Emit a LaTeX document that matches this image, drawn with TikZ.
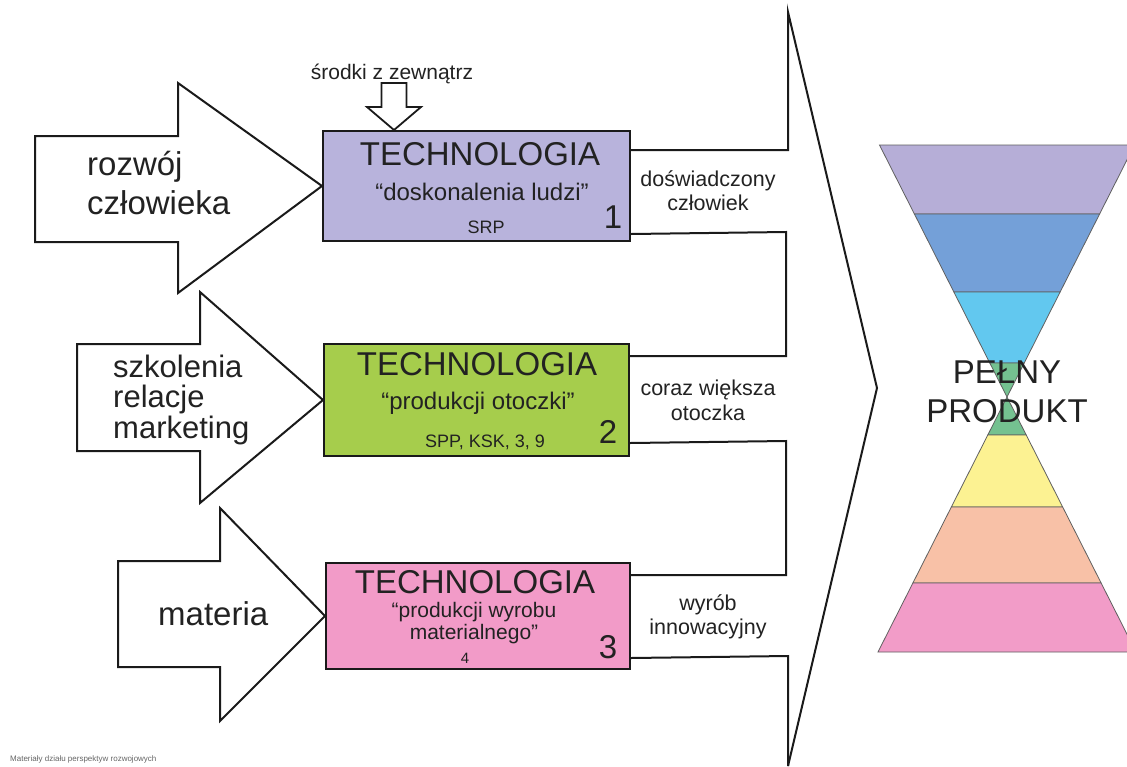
\documentclass[tikz,border=0pt]{standalone}
\usepackage{fontspec}
\setmainfont{Liberation Sans}
\usetikzlibrary{calc}

\definecolor{techA}{HTML}{B8B3DC}
\definecolor{techB}{HTML}{A6CD4C}
\definecolor{techC}{HTML}{F29BC8}
\definecolor{bandA}{HTML}{B6AED7}
\definecolor{bandB}{HTML}{74A0D8}
\definecolor{bandC}{HTML}{62C8EF}
\definecolor{bandD}{HTML}{74C190}
\definecolor{bandE}{HTML}{FCF292}
\definecolor{bandF}{HTML}{F8C1A7}
\definecolor{bandG}{HTML}{F29CC8}
\definecolor{ink}{HTML}{222222}
\definecolor{edge}{HTML}{1A1A1A}

\newcommand\fs[2]{\fontsize{#1}{#2}\selectfont}
% one horizontal slice of the hourglass between heights #1 and #2
\newcommand\hgband[3]{%
  \filldraw[band, fill=#3]
    ({1007-0.506*abs(#1-397)},#1) -- ({1007+0.506*abs(#1-397)},#1) --
    ({1007+0.506*abs(#2-397)},#2) -- ({1007-0.506*abs(#2-397)},#2) -- cycle;}

\begin{document}
\begin{tikzpicture}[x=1pt,y=-1pt,
  techbox/.style={draw=edge, line width=2pt, anchor=north west, inner sep=0pt},
  outline/.style={draw=edge, line width=2pt, line join=miter},
  title/.style={text=ink, font={\fs{33}{33}}, inner sep=0pt, anchor=base},
  sub/.style={text=ink, font={\fs{24}{24}}, inner sep=0pt, anchor=base},
  subsm/.style={text=ink, font={\fs{21}{21}}, inner sep=0pt, anchor=base},
  code/.style={text=ink, font={\fs{18}{18}}, inner sep=0pt, anchor=base},
  num/.style={text=ink, font={\fs{33}{33}}, inner sep=0pt, anchor=base},
  flow/.style={text=ink, font={\fs{21.5}{21.5}}, inner sep=0pt, anchor=base},
  big/.style={text=ink, font={\fs{33}{33}}, inner sep=0pt, anchor=base west},
  bigtight/.style={text=ink, font={\fs{31}{31}}, inner sep=0pt, anchor=base west},
  band/.style={draw=gray!75!black, line width=0.8pt},
]
\clip (0,0) rectangle (1127,766);
\fill[white] (0,0) rectangle (1127,766);

% ---- technology boxes ----
\node[techbox, fill=techA, minimum width=307pt, minimum height=110pt] (b1) at (322,130) {};
\node[techbox, fill=techB, minimum width=305pt, minimum height=112pt] (b2) at (323,343) {};
\node[techbox, fill=techC, minimum width=304pt, minimum height=106pt] (b3) at (325,562) {};

\node[title] (t1) at (480,165) {TECHNOLOGIA};
\node[sub]   (s1) at (482,200) {“doskonalenia ludzi”};
\node[code]  (c1) at (486,233) {SRP};
\node[num]   (n1) at (613,228) {1};

\node[title] (t2) at (477,375) {TECHNOLOGIA};
\node[sub]   (s2) at (478,409) {“produkcji otoczki”};
\node[code]  (c2) at (485,447) {SPP, KSK, 3, 9};
\node[num]   (n2) at (608,443) {2};

\node[title] (t3) at (475,593) {TECHNOLOGIA};
\node[subsm] (s3a) at (474,617) {“produkcji wyrobu};
\node[subsm] (s3b) at (474,639) {materialnego”};
\node[text=ink, font={\fs{15}{15}}, inner sep=0pt, anchor=base] (c3) at (465,663) {4};
\node[num]   (n3) at (608,658) {3};

% ---- input arrows ----
\draw[outline, fill=white] (35,136) -- (178,136) -- (178,83) -- (b1.west)
  -- (178,293) -- (178,242) -- (35,242) -- cycle;
\draw[outline, fill=white] (77,344) -- (200,344) -- (200,292) -- (b2.west)
  -- (200,503) -- (200,451) -- (77,451) -- cycle;
\draw[outline, fill=white] (118,561) -- (220,561) -- (220,508) -- (b3.west)
  -- (220,721) -- (220,667) -- (118,667) -- cycle;

\node[big] (a1a) at (87,175) {rozwój};
\node[big] (a1b) at (87,214) {człowieka};
\node[bigtight] (a2a) at (113,377) {szkolenia};
\node[bigtight] (a2b) at (113,407) {relacje};
\node[bigtight] (a2c) at (113,438) {marketing};
\node[big] (a3)  at (158,625) {materia};

% ---- outside resources arrow ----
\coordinate (ext) at ($(b1.north west)+(72,0)$);
\draw[outline, fill=white, line width=1.8pt] (381.5,83) -- (406.5,83) -- (406.5,107)
  -- (421,107) -- (ext) -- (367,107) -- (381.5,107) -- cycle;
\node[text=ink, font={\fs{21}{21}}, inner sep=0pt, anchor=base] (ext label) at (392,79) {środki z zewnątrz};

% ---- big output chevron built around the boxes ----
\coordinate (chevtop) at (788,12);
\coordinate (chevtip) at (877,388);
\coordinate (chevbot) at (788,766);
\draw[outline] ($(b1.north east)+(0,20)$) -- (788,150) -- (chevtop) -- (chevtip) -- (chevbot);
\draw[outline] ($(b1.south east)+(0,-8)$) -- (786,232) -- (786,356) -- ($(b2.north east)+(0,13)$);
\draw[outline] ($(b2.south east)+(0,-14)$) -- (786,441) -- (786,575) -- ($(b3.north east)+(0,13)$);
\draw[outline] ($(b3.south east)+(0,-12)$) -- (788,656) -- (chevbot);

\node[flow] (f1a) at (708,186) {doświadczony};
\node[flow] (f1b) at (708,210) {człowiek};
\node[flow] (f2a) at (708,395) {coraz większa};
\node[flow] (f2b) at (708,420) {otoczka};
\node[flow] (f3a) at (708,610) {wyrób};
\node[flow] (f3b) at (708,634) {innowacyjny};

% ---- hourglass ----
\hgband{145}{214}{bandA}
\hgband{214}{292}{bandB}
\hgband{292}{363}{bandC}
\hgband{363}{397}{bandD}
\hgband{397}{435}{bandD}
\hgband{435}{507}{bandE}
\hgband{507}{583}{bandF}
\hgband{583}{652}{bandG}

\node[title] (p1) at (1007,383) {PEŁNY};
\node[title] (p2) at (1007,422) {PRODUKT};

% ---- footer ----
\node[text=gray!80!black, font={\fs{8}{8}}, inner sep=0pt, anchor=base west] (foot) at (10,761)
  {Materiały działu perspektyw rozwojowych};
\end{tikzpicture}
\end{document}
